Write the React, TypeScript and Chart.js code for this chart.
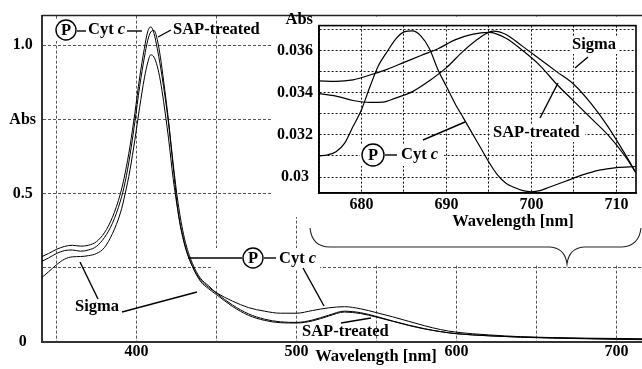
import React, { useEffect, useRef } from 'react';
import { Chart, registerables } from 'chart.js';

Chart.register(...registerables);

const SERIF = "'Liberation Serif', 'Times New Roman', Times, serif";

// ---------- main spectrum ----------
const mainWavelengths = [341, 345, 350, 355, 360, 365, 370, 375, 380, 385, 390, 393, 396, 399, 402, 405, 407, 409, 411, 413, 415, 417, 420, 423, 426, 430, 435, 440, 445, 450, 460, 470, 480, 490, 500, 510, 520, 530, 540, 550, 560, 570, 580, 590, 600, 620, 640, 660, 680, 700, 716];
const mainCytc = [0.288, 0.298, 0.312, 0.322, 0.326, 0.323, 0.326, 0.338, 0.368, 0.42, 0.5, 0.57, 0.66, 0.77, 0.89, 0.99, 1.045, 1.062, 1.04, 0.99, 0.93, 0.86, 0.74, 0.59, 0.44, 0.33, 0.255, 0.21, 0.185, 0.166, 0.138, 0.116, 0.104, 0.097, 0.097, 0.106, 0.115, 0.119, 0.112, 0.099, 0.085, 0.07, 0.055, 0.042, 0.033, 0.024, 0.018, 0.015, 0.013, 0.012, 0.011];
const mainSap = [0.272, 0.283, 0.298, 0.308, 0.31, 0.306, 0.31, 0.322, 0.352, 0.4, 0.475, 0.54, 0.63, 0.74, 0.86, 0.96, 1.015, 1.045, 1.05, 1.02, 0.96, 0.88, 0.75, 0.6, 0.47, 0.35, 0.265, 0.215, 0.19, 0.165, 0.125, 0.095, 0.077, 0.068, 0.066, 0.074, 0.09, 0.104, 0.099, 0.086, 0.071, 0.057, 0.045, 0.035, 0.028, 0.021, 0.016, 0.013, 0.011, 0.009, 0.008];
const mainSigma = [0.218, 0.236, 0.26, 0.279, 0.287, 0.288, 0.291, 0.298, 0.318, 0.365, 0.435, 0.5, 0.58, 0.68, 0.79, 0.89, 0.94, 0.968, 0.96, 0.93, 0.88, 0.81, 0.69, 0.55, 0.44, 0.335, 0.255, 0.205, 0.18, 0.16, 0.12, 0.09, 0.073, 0.065, 0.064, 0.071, 0.087, 0.101, 0.096, 0.084, 0.07, 0.056, 0.044, 0.035, 0.028, 0.021, 0.017, 0.014, 0.012, 0.01, 0.009];
const mainXTicks = [350, 400, 450, 500, 550, 600, 650, 700];
const mainXLabels = ['', '400', '', '500', '', '600', '', '700'];
const mainYTicks = [0, 0.25, 0.5, 0.75, 1.0];
const mainYLabels = ['0', '', '0.5', 'Abs', '1.0'];

// ---------- inset (675-712 nm) ----------
const insetCytcNm = [675, 676, 677, 678, 679, 680, 681, 682, 683, 684, 685, 686, 687, 688, 689, 690, 691, 692, 693, 694, 695, 696, 697, 698, 699, 700, 701, 702, 704, 706, 708, 710, 712.3];
const insetCytcAbs = [0.031, 0.03105, 0.0312, 0.0316, 0.0324, 0.0332, 0.0343, 0.0353, 0.03595, 0.03655, 0.0369, 0.03695, 0.0367, 0.0361, 0.0351, 0.0343, 0.0335, 0.0328, 0.0321, 0.0314, 0.0307, 0.0301, 0.0297, 0.0295, 0.02935, 0.0293, 0.02935, 0.0295, 0.0298, 0.0301, 0.03033, 0.03045, 0.0305];
const insetSapNm = [675, 677, 679, 681, 683, 685, 687, 689, 691, 693, 695, 697, 699, 701, 703, 705, 707, 709, 711, 712.3];
const insetSapAbs = [0.03457, 0.03455, 0.03462, 0.03485, 0.03512, 0.03545, 0.03578, 0.0361, 0.03652, 0.03678, 0.03688, 0.0366, 0.036, 0.0353, 0.0344, 0.0336, 0.0328, 0.032, 0.031, 0.0302];
const insetSigmaNm = [675, 677, 679, 681, 682.5, 684, 686, 688, 690, 692, 694, 695.5, 697, 699, 701, 703, 705, 707, 709, 711, 712.3];
const insetSigmaAbs = [0.03397, 0.03385, 0.03364, 0.03355, 0.03356, 0.03375, 0.03406, 0.03458, 0.0352, 0.036, 0.03665, 0.03694, 0.03678, 0.0362, 0.0356, 0.035, 0.0344, 0.0335, 0.0324, 0.0311, 0.0302];
const insetXTicks = [675, 680, 685, 690, 695, 700, 705, 710];
const insetXLabels = ['', '680', '', '690', '', '700', '', '710'];
const insetYTicks = [0.03, 0.031, 0.032, 0.033, 0.034, 0.035, 0.036, 0.037];
const insetYLabels = ['0.03', '', '0.032', '', '0.034', '', '0.036', ''];

const INSET_LEFT = 270;
const INSET_TOP = 10;

const font16 = { family: SERIF, size: 16, weight: 'bold' as const };

function pts(xs: number[], ys: number[]) {
  return xs.map((x, i) => ({ x, y: ys[i] }));
}

function seg(ctx: CanvasRenderingContext2D, x1: number, y1: number, x2: number, y2: number, w = 1.4) {
  ctx.save();
  ctx.strokeStyle = '#000';
  ctx.lineWidth = w;
  ctx.setLineDash([]);
  ctx.beginPath();
  ctx.moveTo(x1, y1);
  ctx.lineTo(x2, y2);
  ctx.stroke();
  ctx.restore();
}

function text(ctx: CanvasRenderingContext2D, s: string, x: number, y: number, align: CanvasTextAlign = 'left') {
  ctx.save();
  ctx.font = `bold 16.5px ${SERIF}`;
  ctx.fillStyle = '#000';
  ctx.textAlign = align;
  ctx.textBaseline = 'middle';
  ctx.fillText(s, x, y);
  ctx.restore();
}

function cytc(ctx: CanvasRenderingContext2D, x: number, y: number) {
  ctx.save();
  ctx.fillStyle = '#000';
  ctx.textAlign = 'left';
  ctx.textBaseline = 'middle';
  ctx.font = `bold 16.5px ${SERIF}`;
  ctx.fillText('Cyt ', x, y);
  const w = ctx.measureText('Cyt ').width;
  ctx.font = `italic bold 16.5px ${SERIF}`;
  ctx.fillText('c', x + w, y);
  ctx.restore();
}

function circleP(ctx: CanvasRenderingContext2D, cx: number, cy: number, r: number) {
  ctx.save();
  ctx.fillStyle = '#fff';
  ctx.strokeStyle = '#000';
  ctx.lineWidth = 1.4;
  ctx.beginPath();
  ctx.arc(cx, cy, r, 0, Math.PI * 2);
  ctx.fill();
  ctx.stroke();
  ctx.restore();
  text(ctx, 'P', cx, cy + 1, 'center');
}

function white(ctx: CanvasRenderingContext2D, x: number, y: number, w: number, h: number) {
  ctx.save();
  ctx.fillStyle = '#fff';
  ctx.fillRect(x, y, w, h);
  ctx.restore();
}

const mainDecor = {
  id: 'mainDecor',
  afterDatasetsDraw(chart: any) {
    const ctx: CanvasRenderingContext2D = chart.ctx;
    const ca = chart.chartArea;
    // area reserved for the inset and its brace
    white(ctx, 273, ca.top + 1, 642 - 273, 217 - ca.top - 1);
    white(ctx, 300, 217, 342, 47);
    // top frame line
    ctx.save();
    ctx.strokeStyle = '#222';
    ctx.lineWidth = 1.5;
    ctx.beginPath();
    ctx.moveTo(ca.left, ca.top);
    ctx.lineTo(ca.right, ca.top);
    ctx.stroke();
    ctx.restore();
    // brace under the inset
    ctx.save();
    ctx.strokeStyle = '#222';
    ctx.lineWidth = 1.1;
    ctx.beginPath();
    ctx.moveTo(310, 228);
    ctx.quadraticCurveTo(312, 247, 330, 247);
    ctx.lineTo(550, 247);
    ctx.quadraticCurveTo(565, 248, 567, 264);
    ctx.quadraticCurveTo(569, 248, 584, 247);
    ctx.lineTo(622, 247);
    ctx.quadraticCurveTo(639, 246, 641, 228);
    ctx.stroke();
    ctx.restore();

    // top-left label: (P) - Cyt c --  SAP-treated
    white(ctx, 47, 19, 84, 22);
    circleP(ctx, 66, 30, 10);
    seg(ctx, 77, 31, 86, 31);
    cytc(ctx, 88, 30);
    seg(ctx, 127, 31, 142, 31);
    text(ctx, 'SAP-treated', 173, 30);
    seg(ctx, 171, 30, 158, 37);

    // middle label: --- (P) - Cyt c
    white(ctx, 213, 248, 107, 22);
    seg(ctx, 188, 258, 242, 258);
    circleP(ctx, 253, 258, 10);
    seg(ctx, 264, 258, 276, 258);
    cytc(ctx, 279, 259);
    seg(ctx, 303, 268, 324, 306);

    // Sigma (main)
    text(ctx, 'Sigma', 75, 307);
    seg(ctx, 80, 262, 98, 299);
    seg(ctx, 122, 312, 197, 292);

    // SAP-treated (main, bottom)
    text(ctx, 'SAP-treated', 302, 332);
    seg(ctx, 341, 323, 371, 318);

    // x axis title (main)
    text(ctx, 'Wavelength [nm]', 376, 357, 'center');
  },
};

const insetDecor = {
  id: 'insetDecor',
  afterDatasetsDraw(chart: any) {
    const ctx: CanvasRenderingContext2D = chart.ctx;
    const ca = chart.chartArea;
    ctx.save();
    ctx.translate(-INSET_LEFT, -INSET_TOP);
    // Sigma
    white(ctx, 570, 37, 48, 17);
    text(ctx, 'Sigma', 572, 45);
    seg(ctx, 588, 57, 575, 68);
    // SAP-treated
    white(ctx, 490, 124, 95, 18);
    text(ctx, 'SAP-treated', 493, 133);
    seg(ctx, 540, 118, 558, 83);
    // (P) - Cyt c
    white(ctx, 360, 145, 84, 21);
    circleP(ctx, 373, 155, 11);
    seg(ctx, 385, 155, 397, 155);
    cytc(ctx, 401, 155);
    seg(ctx, 423, 140, 465, 122);
    // axis texts
    text(ctx, 'Abs', 313, 20, 'right');
    text(ctx, 'Wavelength [nm]', 513, 222, 'center');
    ctx.restore();
    // frame
    ctx.save();
    ctx.strokeStyle = '#000';
    ctx.lineWidth = 1.6;
    ctx.setLineDash([]);
    ctx.strokeRect(ca.left, ca.top, ca.right - ca.left, ca.bottom - ca.top);
    ctx.restore();
  },
};

export default function App() {
  const mainRef = useRef<HTMLCanvasElement>(null);
  const insetRef = useRef<HTMLCanvasElement>(null);

  useEffect(() => {
    const lineDs = (label: string, data: any[], w: number) => ({
      label,
      data,
      borderColor: '#000',
      borderWidth: w,
      pointRadius: 0,
      fill: false,
      cubicInterpolationMode: 'monotone' as const,
    });

    const main = new Chart(mainRef.current!, {
      type: 'line',
      data: {
        datasets: [
          lineDs('Cyt c', pts(mainWavelengths, mainCytc), 1),
          lineDs('SAP-treated', pts(mainWavelengths, mainSap), 1),
          lineDs('Sigma', pts(mainWavelengths, mainSigma), 1),
        ],
      },
      options: {
        animation: false,
        responsive: false,
        maintainAspectRatio: false,
        layout: { padding: { top: 9, right: 0, bottom: 0, left: 0 } },
        plugins: { legend: { display: false }, tooltip: { enabled: false } },
        scales: {
          x: {
            type: 'linear',
            min: 341,
            max: 716,
            afterBuildTicks: (s: any) => { s.ticks = mainXTicks.map((v) => ({ value: v })); },
            afterFit: (s: any) => { s.height = 27; },
            ticks: { callback: (_v: any, i: number) => mainXLabels[i], font: font16, color: '#000', padding: 0, maxRotation: 0, autoSkip: false },
            grid: { color: '#555', lineWidth: 1, drawTicks: false },
            border: { display: true, color: '#333', width: 2, dash: [3, 2] },
          },
          y: {
            type: 'linear',
            min: 0,
            max: 1.1,
            afterBuildTicks: (s: any) => { s.ticks = mainYTicks.map((v) => ({ value: v })); },
            afterFit: (s: any) => { s.width = 42; },
            ticks: { callback: (_v: any, i: number) => mainYLabels[i], font: font16, color: '#000', padding: 6, crossAlign: 'center' },
            grid: { color: (c: any) => (c.tick && c.tick.value === 0 ? 'rgba(0,0,0,0)' : '#555'), lineWidth: 1, drawTicks: false },
            border: { display: true, color: '#333', width: 2, dash: [3, 2] },
          },
        },
      } as any,
      plugins: [mainDecor],
    });

    const inset = new Chart(insetRef.current!, {
      type: 'line',
      data: {
        datasets: [
          lineDs('Cyt c', pts(insetCytcNm, insetCytcAbs), 1.2),
          lineDs('SAP-treated', pts(insetSapNm, insetSapAbs), 1.2),
          lineDs('Sigma', pts(insetSigmaNm, insetSigmaAbs), 1.2),
        ],
      },
      options: {
        animation: false,
        responsive: false,
        maintainAspectRatio: false,
        layout: { padding: { top: 9, right: 6, bottom: 0, left: 0 } },
        plugins: { legend: { display: false }, tooltip: { enabled: false } },
        scales: {
          x: {
            type: 'linear',
            min: 675,
            max: 712.3,
            afterBuildTicks: (s: any) => { s.ticks = insetXTicks.map((v) => ({ value: v })); },
            afterFit: (s: any) => { s.height = 42; },
            ticks: { callback: (_v: any, i: number) => insetXLabels[i], font: font16, color: '#000', padding: 2, maxRotation: 0, autoSkip: false },
            grid: { color: '#111', lineWidth: 1, drawTicks: false },
            border: { display: true, color: '#000', width: 1.6, dash: [2, 2] },
          },
          y: {
            type: 'linear',
            min: 0.02924,
            max: 0.0372,
            afterBuildTicks: (s: any) => { s.ticks = insetYTicks.map((v) => ({ value: v })); },
            afterFit: (s: any) => { s.width = 49; },
            ticks: { callback: (_v: any, i: number) => insetYLabels[i], font: font16, color: '#000', padding: 6, crossAlign: 'center' },
            grid: { color: '#111', lineWidth: 1, drawTicks: false },
            border: { display: true, color: '#000', width: 1.6, dash: [2, 2] },
          },
        },
      } as any,
      plugins: [insetDecor],
    });

    return () => {
      main.destroy();
      inset.destroy();
    };
  }, []);

  return (
    <div style={{ position: 'fixed', left: 0, top: 0, width: 642, height: 369, background: '#fff', overflow: 'hidden' }}>
      <canvas ref={mainRef} width={642} height={369} style={{ position: 'absolute', left: 0, top: 0, width: 642, height: 369 }} />
      <canvas ref={insetRef} width={372} height={225} style={{ position: 'absolute', left: INSET_LEFT, top: INSET_TOP, width: 372, height: 225 }} />
    </div>
  );
}
